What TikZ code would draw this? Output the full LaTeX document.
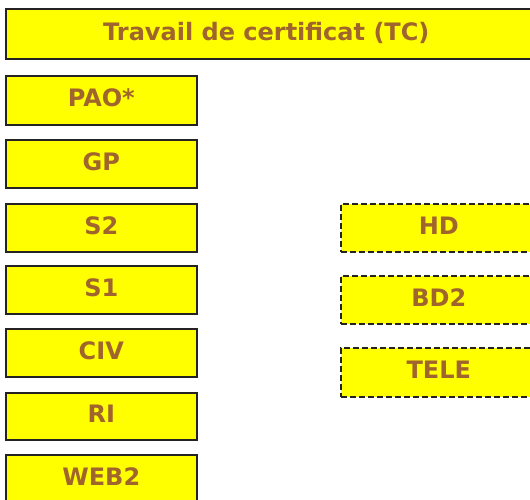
\documentclass[tikz,border=0pt]{standalone}
\usepackage{fontspec}
\setmainfont{DejaVu Sans}
\definecolor{boxfill}{RGB}{255,255,0}
\definecolor{boxline}{RGB}{35,35,35}
\definecolor{boxtext}{RGB}{160,100,45}
\begin{document}
\begin{tikzpicture}[x=1pt,y=-1pt,
  course/.style={draw=boxline, fill=boxfill, line width=1.6pt, rectangle, anchor=north west,
    inner sep=0pt, text height=17.5pt, text depth=5pt, text=boxtext, font=\bfseries\fontsize{24}{26}\selectfont},
  optional/.style={course, dash pattern=on 6pt off 3pt}]
\useasboundingbox (0,0) rectangle (530,500);
\begin{scope}
\clip (0,0) rectangle (530,500);
\node[course, minimum width=530pt, minimum height=50pt] (tc) at (5,8) {\hspace*{-9pt}Travail de certificat (TC)};
\node[course, minimum width=191pt, minimum height=49pt] (pao) at (5,75) {PAO*};
\node[course, minimum width=191pt, minimum height=48pt] (gp) at (5,139) {GP};
\node[course, minimum width=191pt, minimum height=48pt] (s2) at (5,203) {S2};
\node[course, minimum width=191pt, minimum height=48pt] (s1) at (5,265) {S1};
\node[course, minimum width=191pt, minimum height=48pt] (civ) at (5,328) {CIV};
\node[course, minimum width=191pt, minimum height=47pt] (ri) at (5,392) {RI};
\node[course, minimum width=191pt, minimum height=48pt] (web) at (5,454) {WEB2};
\node[optional, minimum width=196pt, minimum height=48pt, text width=190pt, align=center] (hd) at (340,203) {HD};
\node[optional, minimum width=196pt, minimum height=48pt, text width=190pt, align=center] (bd) at (340,275) {BD2};
\node[optional, minimum width=196pt, minimum height=49pt, text width=190pt, align=center] (tele) at (340,347) {TELE};
\end{scope}
\end{tikzpicture}
\end{document}
